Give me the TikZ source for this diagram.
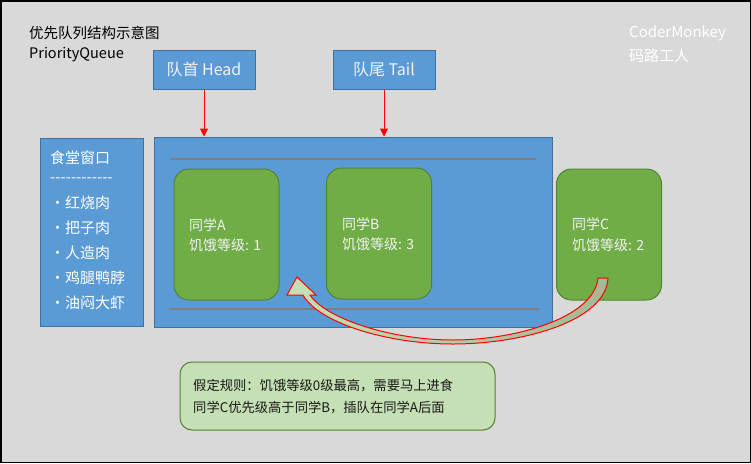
\documentclass[tikz,border=0pt]{standalone}
\usepackage{fontspec}
\setmainfont{Noto Sans CJK SC}
\usetikzlibrary{arrows.meta,calc}
\definecolor{bgc}{HTML}{D9D9D9}
\definecolor{blueA}{HTML}{5B9BD5}
\definecolor{blueEdge}{HTML}{41719C}
\definecolor{greenA}{HTML}{70AD47}
\definecolor{greenEdge}{HTML}{548235}
\definecolor{noteFill}{HTML}{C5E0B4}
\definecolor{arrowDark}{HTML}{A3B894}
\definecolor{railc}{HTML}{7F7F7F}
\definecolor{lightTxt}{HTML}{F2F2F2}
\begin{document}
\begin{tikzpicture}[x=1pt,y=-1pt,
  bluebox/.style={draw=blueEdge, fill=blueA, line width=1pt, inner sep=0pt},
  stu/.style={draw=greenEdge, fill=greenA, line width=1pt, rounded corners=15pt,
    minimum width=105pt, minimum height=131pt, inner sep=0pt},
  notebox/.style={draw=greenEdge, fill=noteFill, line width=1pt, rounded corners=12pt,
    minimum width=315pt, minimum height=68pt, inner sep=0pt},
  wtxt/.style={anchor=west, inner sep=0pt, text=lightTxt, font=\fontsize{14}{17}\selectfont},
  ltxt/.style={anchor=west, inner sep=0pt, text=white, font=\fontsize{15}{18}\selectfont},
  htxt/.style={text=lightTxt, font=\fontsize{16}{19}\selectfont},
  ttxt/.style={anchor=west, inner sep=0pt, text=black, font=\fontsize{14.5}{17}\selectfont},
  ntxt/.style={anchor=west, inner sep=0pt, text=black!90, font=\fontsize{13.3}{16}\selectfont},
  brandtxt/.style={anchor=west, inner sep=0pt, text=white, font=\fontsize{15}{18}\selectfont},
  rail/.style={draw=railc, line width=2pt},
  ptr/.style={draw=red, line width=1pt, -{Triangle[width=8pt,length=8pt]}}
]
% background and frame
\fill[bgc] (0,0) rectangle (751,463);
\useasboundingbox (0,0) rectangle (751,463);
\draw[black, line width=1.5pt] (0.75,0.75) rectangle (750.25,462.25);

% title and brand
\node[ttxt] (title) at (29,33) {优先队列结构示意图};
\node[ttxt] (titleen) at (29,55) {PriorityQueue};
\node[brandtxt] (brand1) at (629,33) {CoderMonkey};
\node[brandtxt] (brand2) at (629,56) {码路工人};

% head / tail
\node[bluebox, minimum width=102pt, minimum height=39pt, htxt] (head) at (204,69.5) {队首 Head};
\node[bluebox, minimum width=102pt, minimum height=39pt, htxt] (tail) at (384,69.5) {队尾 Tail};

% main queue
\node[bluebox, minimum width=398pt, minimum height=190pt] (main) at (353,232) {};
\draw[rail] (170,159) -- (536,159);
\draw[rail] (169,309) -- (539,309);

\draw[ptr] (head.south) -- (head.south |- main.north);
\draw[ptr] (tail.south) -- (tail.south |- main.north);

% left menu
\node[bluebox, minimum width=103pt, minimum height=188pt] (menu) at (91.5,232) {};
\node[ltxt] (m0) at (50,158) {食堂窗口};
\node[ltxt] (m1) at (50,180) {-{}-{}-{}-{}-{}-{}-{}-{}-{}-{}-{}-};
\node[ltxt] (m2) at (50,203) {・红烧肉};
\node[ltxt] (m3) at (50,228) {・把子肉};
\node[ltxt] (m4) at (50,253) {・人造肉};
\node[ltxt] (m5) at (50,278) {・鸡腿鸭脖};
\node[ltxt] (m6) at (50,303) {・油闷大虾};

% students
\node[stu] (A) at (226.5,234.5) {};
\node[stu] (B) at (379,233.5) {};
\node[stu] (C) at (609,234.5) {};
\node[wtxt] (a1) at (189,225) {同学A};
\node[wtxt] (a2) at (189,245) {饥饿等级: 1};
\node[wtxt] (b1) at (342,224) {同学B};
\node[wtxt] (b2) at (342,244) {饥饿等级: 3};
\node[wtxt] (c1) at (572,224) {同学C};
\node[wtxt] (c2) at (572,245) {饥饿等级: 2};

% curved block arrow
\shadedraw[left color=noteFill, right color=arrowDark, draw=red, line width=1pt, line join=miter]
  (598,278) -- (608,278)
  .. controls (606,322) and (520,344) .. (453,344)
  .. controls (385,344) and (318,322) .. (303,295)
  -- (287,295) -- (297,277) -- (316,295) -- (310,295)
  .. controls (325,318) and (390,340) .. (453,340)
  .. controls (515,340) and (594,318) .. (598,278) -- cycle;

% note
\node[notebox] (note) at (337.5,396) {};
\node[ntxt] (n1) at (193,386) {假定规则：饥饿等级0级最高，需要马上进食};
\node[ntxt] (n2) at (193,408) {同学C优先级高于同学B，插队在同学A后面};
\end{tikzpicture}
\end{document}
